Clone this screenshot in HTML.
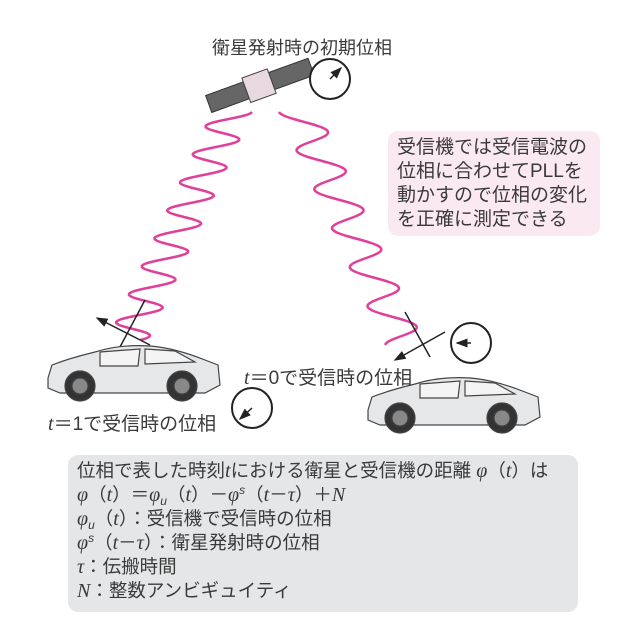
<!DOCTYPE html>
<html><head><meta charset="utf-8"><style>
body{margin:0;width:622px;height:622px;background:#fff;overflow:hidden;position:relative;font-family:"Liberation Sans","Noto Sans CJK JP",sans-serif;color:#3a3a3a}
.t{position:absolute;white-space:nowrap;font-size:18px}
i{font-family:"Liberation Serif","Noto Sans CJK JP",serif;font-size:20px}
.sb{font-size:12px;position:relative;top:4px;font-style:italic}
.sp{font-size:12px;position:relative;top:-7px;font-style:italic}
#pink{position:absolute;left:388px;top:131px;width:212px;height:105px;background:#fbe9f1;border-radius:10px}
#pink div{position:absolute;left:9px;top:5px;font-size:19px;line-height:24px;white-space:nowrap}
#box{position:absolute;left:68px;top:455px;width:510px;height:157px;background:#e5e6e8;border-radius:10px}
#box p{margin:0;position:absolute;left:9px;height:24px;line-height:24px;font-size:18.5px;white-space:nowrap}
</style></head><body>
<svg id="s" width="622" height="622" style="position:absolute;left:0;top:0">
<defs><marker id="a" markerWidth="8" markerHeight="8" refX="7" refY="4" orient="auto"><path d="M0,1 L8,4 L0,7z" fill="#222"/></marker></defs>
<g transform="rotate(-20 255 85)">
<rect x="205" y="78" width="40" height="18" fill="#666" stroke="#333"/>
<rect x="272" y="78" width="42" height="18" fill="#666" stroke="#333"/>
<rect x="245" y="74" width="27" height="26" fill="#e8d8e0" stroke="#444"/>
</g>
<circle cx="330" cy="79" r="20" fill="#fff" stroke="#222" stroke-width="2"/>
<line x1="330" y1="79" x2="341" y2="68" stroke="#222" stroke-width="1.5" marker-end="url(#a)"/>
<path id="w1" fill="none" stroke="#e0409a" stroke-width="2.5"/>
<path id="w2" fill="none" stroke="#e0409a" stroke-width="2.5"/>
<line x1="120" y1="347" x2="145" y2="300" stroke="#222" stroke-width="1.5"/>
<line x1="150" y1="345" x2="97" y2="318" stroke="#222" stroke-width="1.5" marker-end="url(#a)"/>
<line x1="405" y1="312" x2="430" y2="357" stroke="#222" stroke-width="1.5"/>
<line x1="445" y1="332" x2="395" y2="360" stroke="#222" stroke-width="1.5" marker-end="url(#a)"/>
<circle cx="471" cy="343" r="20" fill="#fff" stroke="#222" stroke-width="2"/>
<line x1="471" y1="343" x2="457" y2="343" stroke="#222" stroke-width="1.5" marker-end="url(#a)"/>
<circle cx="252" cy="408" r="20" fill="#fff" stroke="#222" stroke-width="2"/>
<line x1="252" y1="408" x2="240" y2="419" stroke="#222" stroke-width="1.5" marker-end="url(#a)"/>
<g id="car" fill="#e6e7e9" stroke="#444" stroke-width="1.2">
<path d="M48,378 L52,365 Q70,358 95,352 Q120,344 150,346 Q175,348 205,360 L218,365 L220,385 L205,393 L60,393 L48,388z"/>
<path d="M100,352 L140,349 L138,366 L100,366z M145,349 L175,351 L195,362 L145,364z" fill="#f4f4f4"/>
<circle cx="80" cy="386" r="15" fill="#333"/><circle cx="80" cy="386" r="8" fill="#888"/>
<circle cx="182" cy="386" r="15" fill="#333"/><circle cx="182" cy="386" r="8" fill="#888"/>
</g>
<use href="#car" transform="translate(320,32)"/>
</svg>
<div class="t" style="left:212px;top:34px">衛星発射時の初期位相</div>
<div class="t" style="left:244px;top:363px;font-size:19px"><i>t</i>＝0で受信時の位相</div>
<div class="t" style="left:48px;top:409px;font-size:19px"><i>t</i>＝1で受信時の位相</div>
<div id="pink"><div>受信機では受信電波の<br>位相に合わせてPLLを<br>動かすので位相の変化<br>を正確に測定できる</div></div>
<div id="box">
<p style="top:4px">位相で表した時刻<i>t</i>における衛星と受信機の距離 <i>φ</i>（<i>t</i>）は</p>
<p style="top:28px"><i>φ</i>（<i>t</i>）＝<i>φ</i><span class="sb">u</span>（<i>t</i>）－<i>φ</i><span class="sp">s</span>（<i>t</i>－<i>τ</i>）＋<i>N</i></p>
<p style="top:52px"><i>φ</i><span class="sb">u</span>（<i>t</i>）：受信機で受信時の位相</p>
<p style="top:76px"><i>φ</i><span class="sp">s</span>（<i>t</i>－<i>τ</i>）：衛星発射時の位相</p>
<p style="top:100px"><i>τ</i>：伝搬時間</p>
<p style="top:124px"><i>N</i>：整数アンビギュイティ</p>
</div>
<script>
function w(id,x0,y0,x1,y1,A,P,ph){var d="";for(var y=y0;y<=y1;y+=1){var f=(y-y0)/(y1-y0);var cx=x0+(x1-x0)*f;var x=cx+A*Math.cos(2*Math.PI*(y-y0)/P+ph);d+=(y==y0?"M":"L")+x.toFixed(1)+","+y;}document.getElementById(id).setAttribute("d",d);}
w("w1",232,112,128,340,20,28,0);
w("w2",299,112,405,345,20,39,Math.PI);
</script>
</body></html>
